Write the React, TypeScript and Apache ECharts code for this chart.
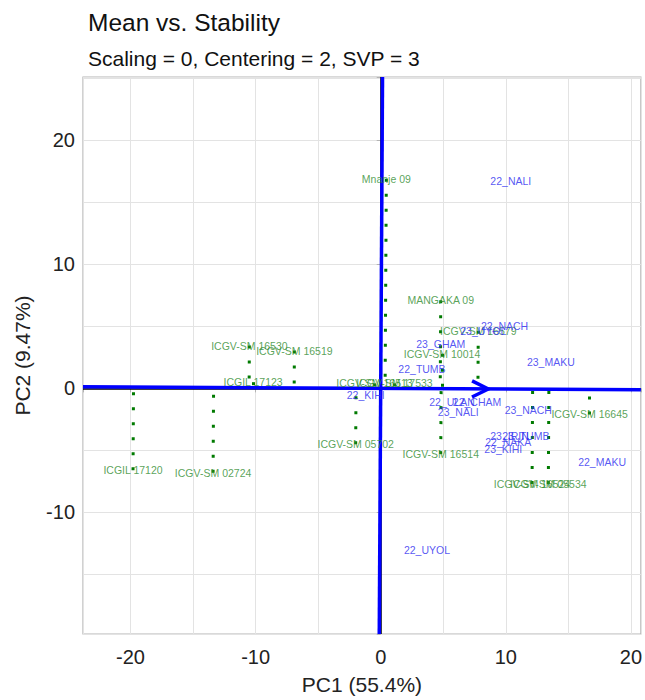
import React, { useEffect, useRef } from "react";
import * as echarts from "echarts";

const chartTitle = "Mean vs. Stability";
const chartSubtitle = "Scaling = 0, Centering = 2, SVP = 3";
const xTitle = "PC1 (55.4%)";
const yTitle = "PC2 (9.47%)";
const xLimits = [-23.8, 20.8];
const yLimits = [-19.8, 25.1];

const genotypeNames = [
  "Mnanje 09", "MANGAKA 09", "ICGV-SM 10014", "ICGV-SM 16579", "ICGV-SM 16530",
  "ICGV-SM 16519", "ICGIL 17123", "ICGIL 17120", "ICGV-SM 02724", "ICGV-SM 05702",
  "ICGV-SM 16513", "ICGV-SM 17533", "ICGV-SM 16645", "ICGV-SM 16514", "ICGV-SM 16524",
  "ICGV-SM 05534",
];
const genotypeX = [0.45, 4.8, 4.9, 7.8, -10.5, -6.9, -10.2, -19.8, -13.4, -2.0, -0.5, 1.1, 16.7, 4.8, 12.1, 13.4];
const genotypeY = [16.9, 7.1, 2.8, 4.65, 3.45, 3.05, 0.5, -6.6, -6.8, -4.5, 0.4, 0.4, -2.1, -5.3, -7.7, -7.7];

const envNames = [
  "22_NALI", "23_GHAM", "22_TUMB", "22_KIHI", "23_UYOL", "22_NACH", "23_MAKU", "22_ULAN",
  "22_CHAM", "23_NALI", "23_NACH", "23_IRIN", "23_TUMB", "22_NAKA", "23_KIHI", "22_MAKU", "22_UYOL",
];
const envX = [10.4, 4.8, 3.3, -1.2, 8.2, 9.9, 13.6, 5.7, 7.7, 6.2, 11.8, 10.3, 11.6, 10.2, 9.8, 17.7, 3.7];
const envY = [16.7, 3.6, 1.6, -0.5, 4.65, 5.0, 2.1, -1.1, -1.1, -1.9, -1.75, -3.8, -3.8, -4.35, -4.9, -5.9, -13.0];

const meanEnv = [8.6, -0.05];

const FONT = "'Liberation Sans', Arial, sans-serif";

export default function App() {
  const ref = useRef<HTMLDivElement>(null);
  useEffect(() => {
    if (!ref.current) return;
    const chart = echarts.init(ref.current, null, { renderer: "svg" });
    const m = meanEnv[1] / meanEnv[0];
    const n = Math.sqrt(1 + m * m);
    const u = [1 / n, m / n];
    const v = [-m / n, 1 / n];
    const aea = [[xLimits[0], m * xLimits[0]], [xLimits[1], m * xLimits[1]]];
    const atc = [[-m * yLimits[1], yLimits[1]], [-m * yLimits[0], yLimits[0]]];
    const L = 1.3, W = 0.65;
    const arrow = [
      [meanEnv[0] - L * u[0] + W * v[0], meanEnv[1] - L * u[1] + W * v[1]],
      [meanEnv[0], meanEnv[1]],
      [meanEnv[0] - L * u[0] - W * v[0], meanEnv[1] - L * u[1] - W * v[1]],
    ];
    const proj = genotypeX.map((gx, i) => {
      const gy = genotypeY[i];
      const t = (gx + m * gy) / (1 + m * m);
      return { coords: [[gx, gy], [t, m * t]] };
    });
    const tickFmt = (val: number) => (Math.abs(val % 10) < 1e-9 ? String(val) : "");
    chart.setOption({
      animation: false,
      backgroundColor: "#ffffff",
      title: [
        { text: chartTitle, left: 83, top: 5, textStyle: { fontFamily: FONT, fontSize: 24.5, fontWeight: "normal", color: "#111" } },
        { text: chartSubtitle, left: 83, top: 43, textStyle: { fontFamily: FONT, fontSize: 21, fontWeight: "normal", color: "#111" } },
      ],
      grid: { left: 83, right: 3, top: 77, bottom: 61, show: true, borderColor: "#B3B3B3", borderWidth: 1.2, backgroundColor: "#fff" },
      xAxis: [
        {
          type: "value", min: xLimits[0], max: xLimits[1], splitNumber: 9,
          axisLine: { show: false }, axisTick: { show: false }, axisLabel: { show: false },
          splitLine: { show: true, lineStyle: { color: "#E3E3E3", width: 1 } },
        },
        {
          type: "value", min: xLimits[0], max: xLimits[1], splitNumber: 5, position: "bottom",
          axisLine: { show: false }, splitLine: { show: false },
          axisTick: { show: true, length: 4, lineStyle: { color: "#B3B3B3" } },
          axisLabel: { formatter: tickFmt, fontFamily: FONT, fontSize: 20, color: "#222", margin: 13 },
          name: xTitle, nameLocation: "middle", nameGap: 40,
          nameTextStyle: { fontFamily: FONT, fontSize: 21, color: "#222" },
        },
      ],
      yAxis: [
        {
          type: "value", min: yLimits[0], max: yLimits[1], splitNumber: 9,
          axisLine: { show: false }, axisTick: { show: false }, axisLabel: { show: false },
          splitLine: { show: true, lineStyle: { color: "#E3E3E3", width: 1 } },
        },
        {
          type: "value", min: yLimits[0], max: yLimits[1], splitNumber: 5, position: "left",
          axisLine: { show: false }, splitLine: { show: false },
          axisTick: { show: true, length: 4, lineStyle: { color: "#B3B3B3" } },
          axisLabel: { formatter: tickFmt, fontFamily: FONT, fontSize: 20, color: "#222", margin: 8 },
          name: yTitle, nameLocation: "middle", nameGap: 50, nameRotate: 90,
          nameTextStyle: { fontFamily: FONT, fontSize: 21, color: "#222" },
        },
      ],
      series: [
        {
          type: "lines", coordinateSystem: "cartesian2d", z: 2, silent: true,
          lineStyle: { color: "#000", width: 1.5, opacity: 1 },
          data: [
            { coords: [[xLimits[0], 0], [xLimits[1], 0]] },
            { coords: [[0, yLimits[0]], [0, yLimits[1]]] },
          ],
        },
        {
          type: "lines", coordinateSystem: "cartesian2d", z: 3, silent: true,
          lineStyle: { color: "#0000FF", width: 3.5, opacity: 1 },
          data: [{ coords: aea }, { coords: atc }],
        },
        {
          type: "lines", coordinateSystem: "cartesian2d", polyline: true, z: 3, silent: true,
          lineStyle: { color: "#0000FF", width: 3.5, opacity: 1, join: "miter" },
          data: [{ coords: arrow }],
        },
        {
          type: "lines", coordinateSystem: "cartesian2d", z: 4, silent: true,
          lineStyle: { color: "#007A00", width: 3, opacity: 1, type: [3, 12], cap: "butt" },
          data: proj,
        },
        {
          type: "scatter", z: 5, symbolSize: 1, itemStyle: { color: "transparent" }, silent: true,
          data: genotypeNames.map((name, i) => ({ name, value: [genotypeX[i], genotypeY[i]] })),
          label: { show: true, position: "inside", formatter: "{b}", fontFamily: FONT, fontSize: 10.5, color: "#2E8B2E" },
        },
        {
          type: "scatter", z: 5, symbolSize: 1, itemStyle: { color: "transparent" }, silent: true,
          data: envNames.map((name, i) => ({ name, value: [envX[i], envY[i]] })),
          label: { show: true, position: "inside", formatter: "{b}", fontFamily: FONT, fontSize: 10.5, color: "#2B2BF0" },
        },
      ],
    });
    return () => chart.dispose();
  }, []);
  return <div ref={ref} style={{ position: "fixed", left: 0, top: 0, width: 645, height: 700 }} />;
}
